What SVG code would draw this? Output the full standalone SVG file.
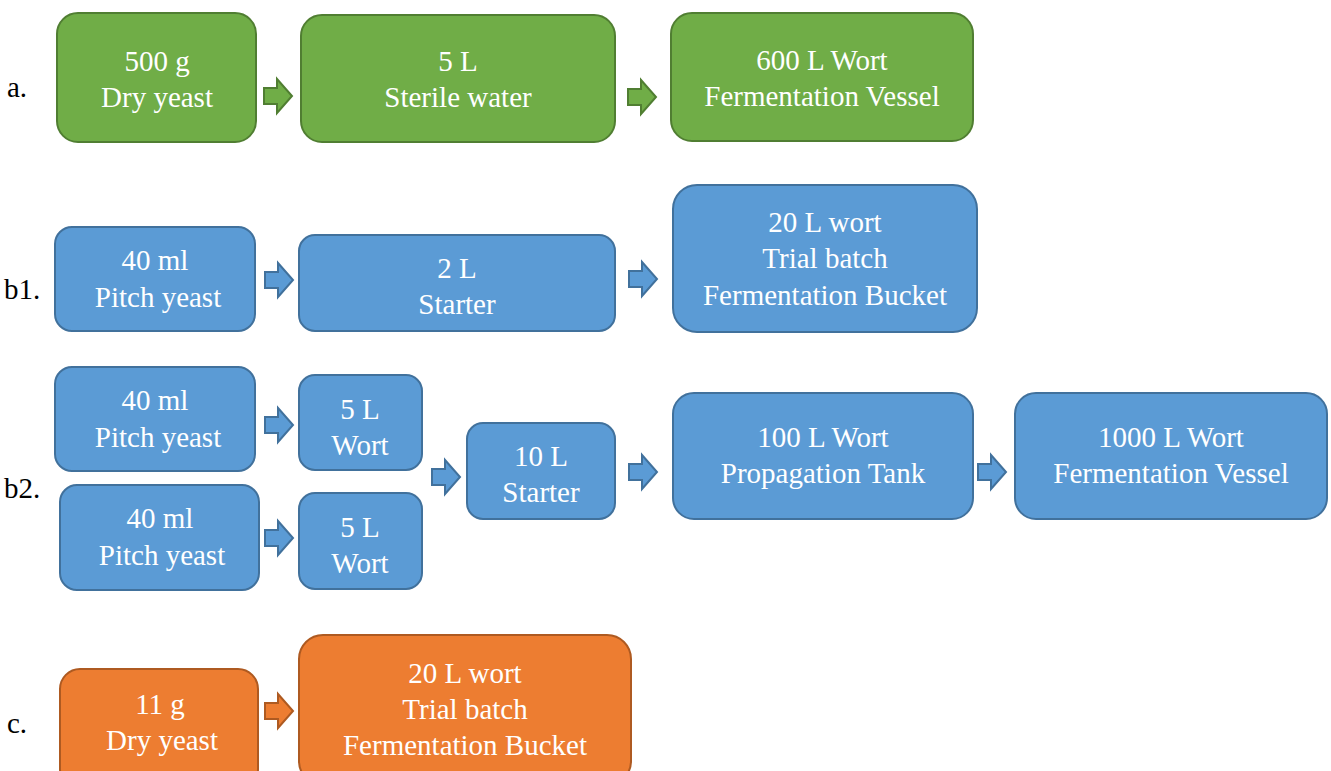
<svg xmlns="http://www.w3.org/2000/svg" width="1331" height="771" viewBox="0 0 1331 771" font-family="Liberation Serif, Times New Roman, serif" font-size="29">
<style>
text{font-family:'Liberation Serif','Times New Roman',serif;font-size:29px}
.t{fill:#fff;text-anchor:middle}
.lab{fill:#000}
.g{fill:#70AD47;stroke:#507E32;stroke-width:2}
.b{fill:#5B9BD5;stroke:#41719C;stroke-width:2}
.o{fill:#ED7D31;stroke:#AE5A21;stroke-width:2}
</style>
<defs>
<path id="arr" d="M0,-8 H13 V-17 L28,0 L13,17 V8 H0 Z"/>
</defs>
<rect width="1331" height="771" fill="#fff"/>
<g id="labels">
<text class="lab" x="7" y="97">a.</text>
<text class="lab" x="4" y="299">b1.</text>
<text class="lab" x="4" y="498">b2.</text>
<text class="lab" x="7" y="733">c.</text>
</g>
<g id="connectors">
<use href="#arr" class="g" x="264" y="96"/>
<use href="#arr" class="g" x="628" y="97"/>
<use href="#arr" class="b" x="265" y="280"/>
<use href="#arr" class="b" x="629" y="279"/>
<use href="#arr" class="b" x="265" y="425"/>
<use href="#arr" class="b" x="265" y="538"/>
<use href="#arr" class="b" x="432" y="477"/>
<use href="#arr" class="b" x="629" y="472"/>
<use href="#arr" class="b" x="978" y="472"/>
<use href="#arr" class="o" x="265" y="711"/>
</g>
<g id="a1"><rect class="g" x="57" y="13" width="199" height="129" rx="21"/><text class="t" x="157" y="71">500 g</text><text class="t" x="157" y="107">Dry yeast</text></g>
<g id="a2"><rect class="g" x="301" y="15" width="314" height="127" rx="21"/><text class="t" x="458" y="71">5 L</text><text class="t" x="458" y="107">Sterile water</text></g>
<g id="a3"><rect class="g" x="671" y="13" width="302" height="128" rx="21"/><text class="t" x="822" y="70">600 L Wort</text><text class="t" x="822" y="106">Fermentation Vessel</text></g>
<g id="b1-1"><rect class="b" x="55" y="227" width="200" height="104" rx="17"/><text class="t" x="155" y="270">40 ml</text><text class="t" x="158" y="307">Pitch yeast</text></g>
<g id="b1-2"><rect class="b" x="299" y="235" width="316" height="96" rx="16"/><text class="t" x="457" y="278">2 L</text><text class="t" x="457" y="314">Starter</text></g>
<g id="b1-3"><rect class="b" x="673" y="185" width="304" height="147" rx="24"/><text class="t" x="825" y="232">20 L wort</text><text class="t" x="825" y="268">Trial batch</text><text class="t" x="825" y="305">Fermentation Bucket</text></g>
<g id="b2-p1"><rect class="b" x="55" y="367" width="200" height="104" rx="17"/><text class="t" x="155" y="410">40 ml</text><text class="t" x="158" y="447">Pitch yeast</text></g>
<g id="b2-p2"><rect class="b" x="60" y="485" width="199" height="105" rx="17"/><text class="t" x="160" y="528">40 ml</text><text class="t" x="162" y="565">Pitch yeast</text></g>
<g id="b2-w1"><rect class="b" x="299" y="375" width="123" height="95" rx="16"/><text class="t" x="360" y="419">5 L</text><text class="t" x="360" y="455">Wort</text></g>
<g id="b2-w2"><rect class="b" x="299" y="493" width="123" height="96" rx="16"/><text class="t" x="360" y="537">5 L</text><text class="t" x="360" y="573">Wort</text></g>
<g id="b2-s"><rect class="b" x="467" y="423" width="148" height="96" rx="16"/><text class="t" x="541" y="466">10 L</text><text class="t" x="541" y="502">Starter</text></g>
<g id="b2-pt"><rect class="b" x="673" y="393" width="300" height="126" rx="21"/><text class="t" x="823" y="447">100 L Wort</text><text class="t" x="823" y="483">Propagation Tank</text></g>
<g id="b2-fv"><rect class="b" x="1015" y="393" width="312" height="126" rx="21"/><text class="t" x="1171" y="447">1000 L Wort</text><text class="t" x="1171" y="483">Fermentation Vessel</text></g>
<g id="c1"><rect class="o" x="60" y="669" width="198" height="120" rx="20"/><text class="t" x="160" y="714">11 g</text><text class="t" x="162" y="750">Dry yeast</text></g>
<g id="c2"><rect class="o" x="299" y="635" width="332" height="150" rx="24"/><text class="t" x="465" y="683">20 L wort</text><text class="t" x="465" y="719">Trial batch</text><text class="t" x="465" y="755">Fermentation Bucket</text></g>
</svg>
